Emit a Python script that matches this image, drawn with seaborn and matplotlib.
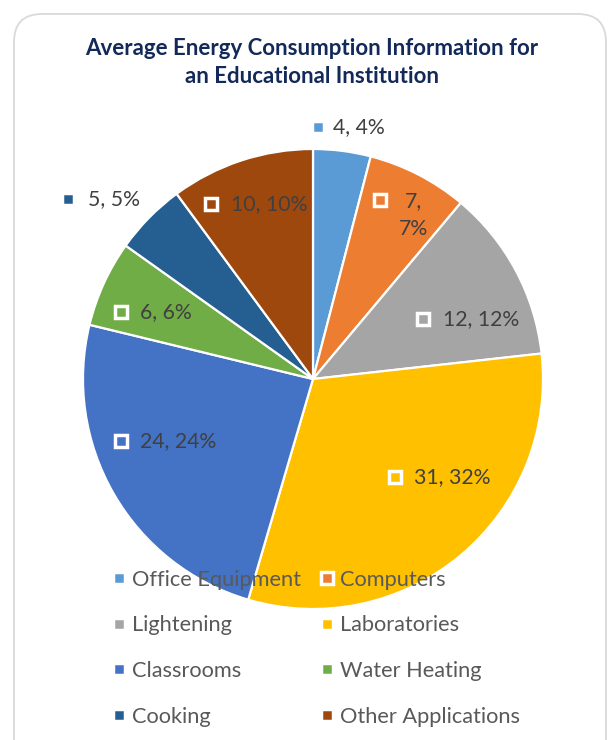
import matplotlib
matplotlib.use("Agg")
import matplotlib.pyplot as plt
import seaborn as sns
from matplotlib.patches import FancyBboxPatch
from matplotlib.lines import Line2D

# ---- data ----
categories = ["Office Equipment", "Computers", "Lightening", "Laboratories",
              "Classrooms", "Water Heating", "Cooking", "Other Applications"]
values = [4, 7, 12, 31, 24, 6, 5, 10]
percent_labels = ["4%", "7%", "12%", "32%", "24%", "6%", "5%", "10%"]
title_text = "Average Energy Consumption Information for\nan Educational Institution"

# ---- style ----
colors = ["#5B9BD5", "#ED7D31", "#A5A5A5", "#FFC000",
          "#4472C4", "#70AD47", "#255E91", "#9E480E"]
FONT = "Lato"
W, H = 609, 740

sns.set_theme(style="white")
plt.rcParams["font.family"] = [FONT, "DejaVu Sans"]

fig = plt.figure(figsize=(W / 100, H / 100), dpi=100)
ax = fig.add_axes([0, 0, 1, 1])

def py(y):  # pixel y (top-down) -> data y
    return H - y

# card background
card = FancyBboxPatch((14, py(770)), 592, 756,
                      boxstyle="round,pad=0,rounding_size=28",
                      facecolor="white", edgecolor="#D9D9D9", linewidth=1.3,
                      clip_on=False, zorder=0)
ax.add_patch(card)

# pie
wedges, _ = ax.pie(values, colors=colors, startangle=90, counterclock=False,
                   center=(313, py(379)), radius=230,
                   wedgeprops=dict(edgecolor="white", linewidth=1.6))
for w in wedges:
    w.set_zorder(2)

# data labels: (marker x, marker y, text x, text y, ha) in pixel coords
label_layout = [
    (318, 127, 333, 127, "left"),
    (380, 200, 414, 215, "center"),
    (423, 319, 443, 319, "left"),
    (395, 477, 414, 477, "left"),
    (121, 441, 140, 441, "left"),
    (121, 312, 140, 312, "left"),
    (68, 199, 88, 199, "left"),
    (211, 204, 231, 204, "left"),
]
label_fs = 15.3
for i, (mx, my, tx, ty, ha) in enumerate(label_layout):
    ax.plot([mx], [py(my)], marker="s", linestyle="", markersize=8.3,
            markerfacecolor=colors[i], markeredgecolor="white",
            markeredgewidth=2.5, zorder=4)
    if categories[i] == "Computers":
        txt = f"{values[i]},\n{percent_labels[i]}"
    else:
        txt = f"{values[i]}, {percent_labels[i]}"
    ax.text(tx, py(ty), txt, ha=ha, va="center", fontsize=label_fs,
            color="#404040", linespacing=1.45, zorder=5)

# title
ax.text(312, py(62.5), title_text, ha="center", va="center", fontsize=16,
        fontweight="bold", color="#12295A", linespacing=1.42, zorder=5)

# legend (row-major order like the original -> reorder for column-major fill)
handles = [Line2D([], [], marker="s", linestyle="", markersize=8.3,
                  markerfacecolor=c, markeredgecolor="white",
                  markeredgewidth=2.5) for c in colors]
order = [0, 2, 4, 6, 1, 3, 5, 7]
leg = ax.legend([handles[i] for i in order], [categories[i] for i in order],
                ncol=2, loc="upper left", bbox_to_anchor=(110.3 / W, 1 - 569.5 / H),
                frameon=False, fontsize=15.7, borderpad=0, borderaxespad=0,
                handlelength=0.8, handletextpad=0.2, columnspacing=0.8,
                labelspacing=1.18, labelcolor="#595959")
leg.set_zorder(6)

ax.set_xlim(0, W)
ax.set_ylim(0, H)
ax.set_aspect("equal")
ax.axis("off")

fig.savefig("out.png", dpi=100)
